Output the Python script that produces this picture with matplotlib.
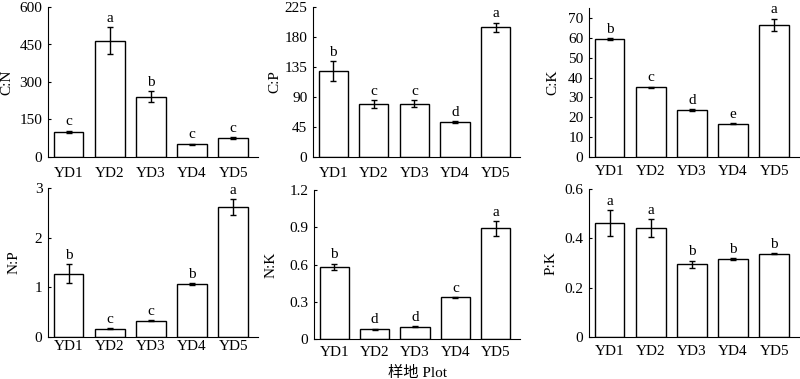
import matplotlib
matplotlib.use('Agg')
import matplotlib.pyplot as plt

plt.rcParams['font.family'] = ['Liberation Serif', 'Noto Sans CJK SC']

PLOTS = ['YD1', 'YD2', 'YD3', 'YD4', 'YD5']

CN = [101, 465, 241, 51, 76]
CN_ERR = [4, 55, 22, 2, 3]
CN_LET = ['c', 'a', 'b', 'c', 'c']

CP = [129, 79.5, 80, 52.5, 194.5]
CP_ERR = [15, 6, 5, 1, 7]
CP_LET = ['b', 'c', 'c', 'd', 'a']

CK = [59.4, 35.1, 23.5, 16.7, 66.6]
CK_ERR = [0.5, 0.3, 0.5, 0.3, 3.0]
CK_LET = ['b', 'c', 'd', 'e', 'a']

NP = [1.27, 0.17, 0.33, 1.06, 2.62]
NP_ERR = [0.19, 0.01, 0.01, 0.02, 0.16]
NP_LET = ['b', 'c', 'c', 'b', 'a']

NK = [0.583, 0.078, 0.100, 0.337, 0.89]
NK_ERR = [0.025, 0.005, 0.005, 0.003, 0.062]
NK_LET = ['b', 'd', 'd', 'c', 'a']

PK = [0.461, 0.442, 0.294, 0.316, 0.338]
PK_ERR = [0.053, 0.036, 0.016, 0.004, 0.003]
PK_LET = ['a', 'a', 'b', 'b', 'b']

panels = [
    ('C:N', CN, CN_ERR, CN_LET, 600, [0, 150, 300, 450, 600], ['0', '150', '300', '450', '600']),
    ('C:P', CP, CP_ERR, CP_LET, 225, [0, 45, 90, 135, 180, 225], ['0', '45', '90', '135', '180', '225']),
    ('C:K', CK, CK_ERR, CK_LET, 75, list(range(0, 71, 10)), [str(v) for v in range(0, 71, 10)]),
    ('N:P', NP, NP_ERR, NP_LET, 3, [0, 1, 2, 3], ['0', '1', '2', '3']),
    ('N:K', NK, NK_ERR, NK_LET, 1.2, [0, 0.3, 0.6, 0.9, 1.2], ['0', '0.3', '0.6', '0.9', '1.2']),
    ('P:K', PK, PK_ERR, PK_LET, 0.6, [0, 0.2, 0.4, 0.6], ['0', '0.2', '0.4', '0.6']),
]

W, H = 800, 379
# axes boxes in pixels: left, top, right, bottom
boxes = [
    (48, 7, 258, 157), (313, 7, 520, 157), (589, 8, 799, 157),
    (48, 188, 258, 337), (314, 190, 520, 339), (589, 189, 799, 337),
]
ylab_x = [7, 275, 553, 15, 272, 552]
xpads = [7, 7, 6, 2, 5, 6]

fig = plt.figure(figsize=(8, 3.79), dpi=100)
axes = []
for (name, vals, errs, lets, ymax, ticks, tlabels), (l, t, r, b), lx, xp in zip(panels, boxes, ylab_x, xpads):
    ax = fig.add_axes([l / W, 1 - b / H, (r - l) / W, (b - t) / H])
    x = range(len(PLOTS))
    ax.bar(x, vals, width=0.72, color='white', edgecolor='black', linewidth=1.0,
           yerr=errs, error_kw=dict(ecolor='black', elinewidth=1.0, capsize=2, capthick=1.0))
    for i, (v, e, s) in enumerate(zip(vals, errs, lets)):
        ax.text(i, v + e + ymax * 0.015, s, ha='center', va='bottom', fontsize=11)
    ax.set_xlim(-0.5, 4.6)
    ax.set_ylim(0, ymax)
    ax.set_yticks(ticks)
    ax.set_yticklabels(tlabels)
    ax.set_xticks(list(x))
    ax.set_xticklabels(PLOTS)
    ax.tick_params(axis='x', length=0, labelsize=11, pad=xp)
    ax.tick_params(axis='y', direction='in', length=2.5, width=0.8, labelsize=11, pad=4)
    for sp in ['top', 'right']:
        ax.spines[sp].set_visible(False)
    for sp in ['left', 'bottom']:
        ax.spines[sp].set_linewidth(0.8)
    ax.set_ylabel(name, fontsize=11)
    ax.yaxis.set_label_coords((lx + 6 - l) / (r - l), 0.5)
    axes.append(ax)

axes[4].set_xlabel('样地 Plot', fontsize=11, labelpad=5)

fig.savefig('out.png', dpi=100)
